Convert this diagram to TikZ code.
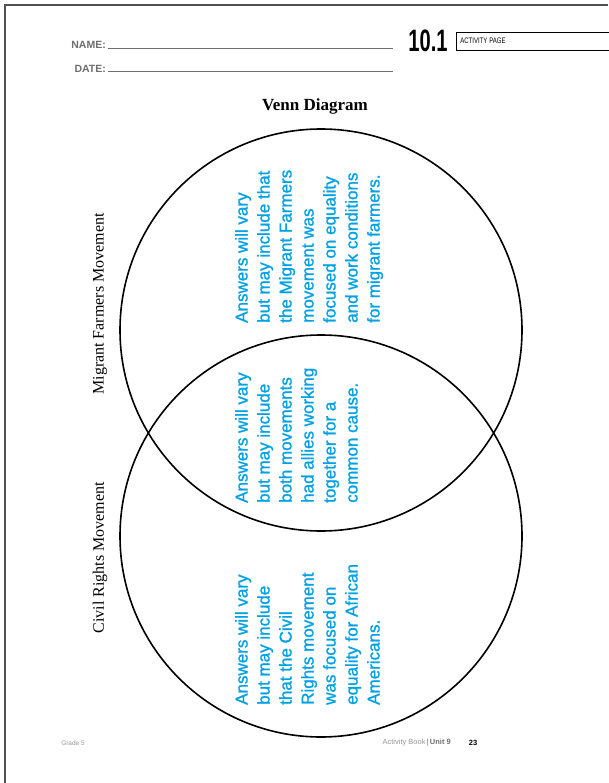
\documentclass[tikz,border=0pt]{standalone}
\usepackage{fontspec}
\setmainfont{Liberation Serif}
\setsansfont{Liberation Sans}
\newfontfamily\answerfont{Liberation Sans}[FakeBold=1.2]
\usepackage{tikz}
\usetikzlibrary{positioning}

\definecolor{answerblue}{RGB}{0,161,228}
\definecolor{headgray}{RGB}{110,110,110}
\definecolor{framegray}{RGB}{80,80,80}
\definecolor{footgray}{RGB}{150,150,150}

\begin{document}
\begin{tikzpicture}[x=1pt, y=-1pt,
    vennc/.style={circle, draw, line width=1.6pt, minimum size=402pt, inner sep=0pt},
    answer/.style={rotate=90, align=left, anchor=north west, inner sep=0pt,
                   text=answerblue, font=\answerfont\fontsize{17}{22}\selectfont},
    setlabel/.style={rotate=90, inner sep=0pt, font=\fontsize{16}{19}\selectfont},
    headlbl/.style={anchor=east, inner sep=0pt, text=headgray,
                    font=\sffamily\bfseries\fontsize{10.5}{12}\selectfont},
    foot/.style={inner sep=0pt, font=\sffamily\fontsize{7.5}{9}\selectfont}]
    \useasboundingbox (0,0) rectangle (608,783);

    % page frame
    \draw[framegray, line width=2pt] (5,783) -- (5,5) -- (608,5);

    % header
    \node[headlbl] (name) at (106,45) {NAME:};
    \node[headlbl] (date) at (106,69) {DATE:};
    \coordinate (nameend) at (393,48);
    \coordinate (dateend) at (393,71);
    \draw[headgray, line width=0.7pt] ([xshift=2pt]name.east |- nameend) -- (nameend);
    \draw[headgray, line width=0.7pt] ([xshift=2pt]date.east |- dateend) -- (dateend);
    \node[inner sep=0pt, xscale=0.65, font=\sffamily\bfseries\fontsize{31}{32}\selectfont] (num) at (428,41) {10.1};
    \node[draw, line width=0.8pt, anchor=west, minimum height=18pt, text width=146pt,
          inner xsep=4pt, font=\sffamily\fontsize{8}{9}\selectfont] (actbox) at (456,41)
          {\scalebox{0.75}[1]{ACTIVITY PAGE}};

    \node[font=\bfseries\fontsize{17}{20}\selectfont] (title) at (315,106) {Venn Diagram};

    % the two sets
    \node[vennc] (upper) at (321,330) {};
    \node[vennc] (lower) at (321,536) {};

    \node[setlabel] (farmlbl) at (100,304) {Migrant Farmers Movement};
    \node[setlabel] (civillbl) at (100,558) {Civil Rights Movement};

    % answers
    \node[answer] (farmans) at (235,323) {Answers will vary\\but may include that\\the Migrant Farmers\\movement was\\focused on equality\\and work conditions\\for migrant farmers.};
    \node[answer] (bothans) at (235,503) {Answers will vary\\but may include\\both movements\\had allies working\\together for a\\common cause.};
    \node[answer] (civilans) at (235,705) {Answers will vary\\but may include\\that the Civil\\Rights movement\\was focused on\\equality for African\\Americans.};

    % footer
    \node[foot, text=footgray, font=\sffamily\fontsize{6.5}{8}\selectfont] (grade) at (73,743) {Grade 5};
    \node[foot, anchor=east, text=headgray] (unit) at (451,743) {\textcolor{footgray}{Activity Book}\,|\,\textbf{Unit 9}};
    \node[foot, font=\sffamily\bfseries\fontsize{7.5}{9}\selectfont] (page) at (473,743) {23};
\end{tikzpicture}
\end{document}
